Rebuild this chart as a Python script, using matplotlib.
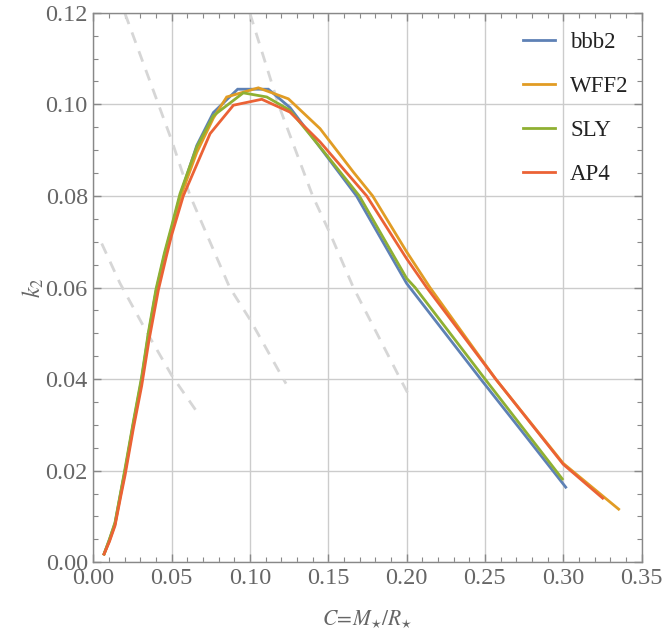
import numpy as np
import matplotlib.pyplot as plt
from matplotlib.ticker import MultipleLocator

plt.rcParams['font.family'] = ['Liberation Serif', 'DejaVu Serif']
plt.rcParams['mathtext.fontset'] = 'stix'

# ---- data ----
bbb2_c = [0.0068, 0.0102, 0.0138, 0.0174, 0.0202, 0.0255, 0.0308, 0.0351, 0.040,
          0.0453, 0.050, 0.0553, 0.066, 0.0766, 0.0921, 0.1117, 0.1255, 0.150,
          0.168, 0.200, 0.2473, 0.275, 0.3016]
bbb2_k = [0.0018, 0.0049, 0.0085, 0.0151, 0.0200, 0.0303, 0.0400, 0.0497, 0.0592,
          0.0670, 0.0730, 0.0800, 0.0910, 0.0982, 0.1033, 0.1033, 0.0993, 0.0882,
          0.0800, 0.0609, 0.0400, 0.0280, 0.0164]

wff2_c = [0.0068, 0.0102, 0.0138, 0.0174, 0.0202, 0.0255, 0.0308, 0.0351, 0.040,
          0.0453, 0.050, 0.0553, 0.066, 0.0766, 0.0851, 0.1053, 0.1245, 0.1447,
          0.166, 0.1783, 0.200, 0.2149, 0.2569, 0.300, 0.3354]
wff2_k = [0.0018, 0.0047, 0.0083, 0.0148, 0.0198, 0.0300, 0.0395, 0.0492, 0.0588,
          0.0665, 0.0722, 0.0795, 0.0895, 0.0970, 0.1016, 0.1036, 0.1012, 0.0947,
          0.0852, 0.0800, 0.0678, 0.0600, 0.0400, 0.0216, 0.0116]

sly_c = [0.0068, 0.0102, 0.0138, 0.0174, 0.0202, 0.0255, 0.0308, 0.0351, 0.040,
         0.0453, 0.050, 0.0553, 0.066, 0.0766, 0.0957, 0.1107, 0.1255, 0.1447,
         0.1698, 0.200, 0.2054, 0.2501, 0.2994]
sly_k = [0.0018, 0.0050, 0.0087, 0.0153, 0.0205, 0.0307, 0.0405, 0.0502, 0.0597,
         0.0675, 0.0735, 0.0805, 0.0907, 0.0975, 0.1025, 0.1016, 0.0987, 0.0907,
         0.0800, 0.0620, 0.0600, 0.0400, 0.0182]

ap4_c = [0.0068, 0.0102, 0.0138, 0.0174, 0.0202, 0.0255, 0.0308, 0.0355, 0.0415,
         0.0465, 0.050, 0.0574, 0.0745, 0.0894, 0.1075, 0.1255, 0.1447, 0.1745,
         0.200, 0.2128, 0.2569, 0.300, 0.3252]
ap4_k = [0.0018, 0.0045, 0.0080, 0.0143, 0.0190, 0.0292, 0.0385, 0.0485, 0.0595,
         0.0667, 0.0715, 0.0800, 0.0936, 0.0998, 0.1011, 0.0983, 0.0918, 0.0800,
         0.0663, 0.0600, 0.0400, 0.0214, 0.0140]

# light dashed guide curves
guide1_c = [0.0053, 0.017, 0.0234, 0.034, 0.050, 0.066]
guide1_k = [0.0696, 0.0609, 0.0569, 0.0503, 0.0408, 0.0329]
guide2_c = [0.0202, 0.050, 0.0618, 0.087, 0.100, 0.1213, 0.123]
guide2_k = [0.1198, 0.0921, 0.0800, 0.0600, 0.0530, 0.0400, 0.0390]
guide3_c = [0.100, 0.1181, 0.140, 0.1511, 0.166, 0.196, 0.2011]
guide3_k = [0.1198, 0.1000, 0.0800, 0.0718, 0.0600, 0.0400, 0.0367]

names = ["bbb2", "WFF2", "SLY", "AP4"]
colors = ["#5E81B5", "#E19C24", "#8FB032", "#EB6235"]

# ---- plot ----
fig = plt.figure(figsize=(6.63, 6.36), dpi=100)
ax = fig.add_axes([0.1409, 0.1159, 0.8267, 0.8641])

for gc, gk in [(guide1_c, guide1_k), (guide2_c, guide2_k), (guide3_c, guide3_k)]:
    ax.plot(gc, gk, color="#d6d6d6", lw=2.0, dashes=(4, 3.2))

series = [(bbb2_c, bbb2_k), (wff2_c, wff2_k), (sly_c, sly_k), (ap4_c, ap4_k)]
for (c, k), name, col in zip(series, names, colors):
    ax.plot(c, k, color=col, lw=2.0, label=name, solid_joinstyle="miter")

ax.set_xlim(0, 0.35)
ax.set_ylim(0, 0.12)
ax.xaxis.set_major_locator(MultipleLocator(0.05))
ax.xaxis.set_minor_locator(MultipleLocator(0.01))
ax.yaxis.set_major_locator(MultipleLocator(0.02))
ax.yaxis.set_minor_locator(MultipleLocator(0.005))
ax.xaxis.set_major_formatter(plt.FuncFormatter(lambda v, p: f"{v:.2f}"))
ax.yaxis.set_major_formatter(plt.FuncFormatter(lambda v, p: f"{v:.2f}"))

ax.grid(True, which="major", color="#cccccc", lw=1.0)
ax.set_axisbelow(True)
for s in ax.spines.values():
    s.set_color("#888888")
    s.set_linewidth(1.0)
ax.tick_params(which="both", direction="in", top=True, right=True,
               color="#888888", labelcolor="#666666", labelsize=17.5)
ax.tick_params(axis="x", pad=4)
ax.tick_params(axis="y", pad=4)
ax.tick_params(which="major", length=6, width=1.0)
ax.tick_params(which="minor", length=3.5, width=0.8)

ax.set_xlabel(r"$C\!=\!M_{\star}/R_{\star}$", fontsize=15.5, color="#666666", labelpad=14)
ax.set_ylabel(r"$k_2$", fontsize=17, color="#666666", labelpad=-0.5)

leg = ax.legend(loc="upper right", bbox_to_anchor=(1.012, 1.0), frameon=False,
                fontsize=16.5, handlelength=1.4, handletextpad=0.65,
                labelspacing=1.0, borderaxespad=0.45)
for t in leg.get_texts():
    t.set_color("#222222")

fig.savefig("out.png", dpi=100)
